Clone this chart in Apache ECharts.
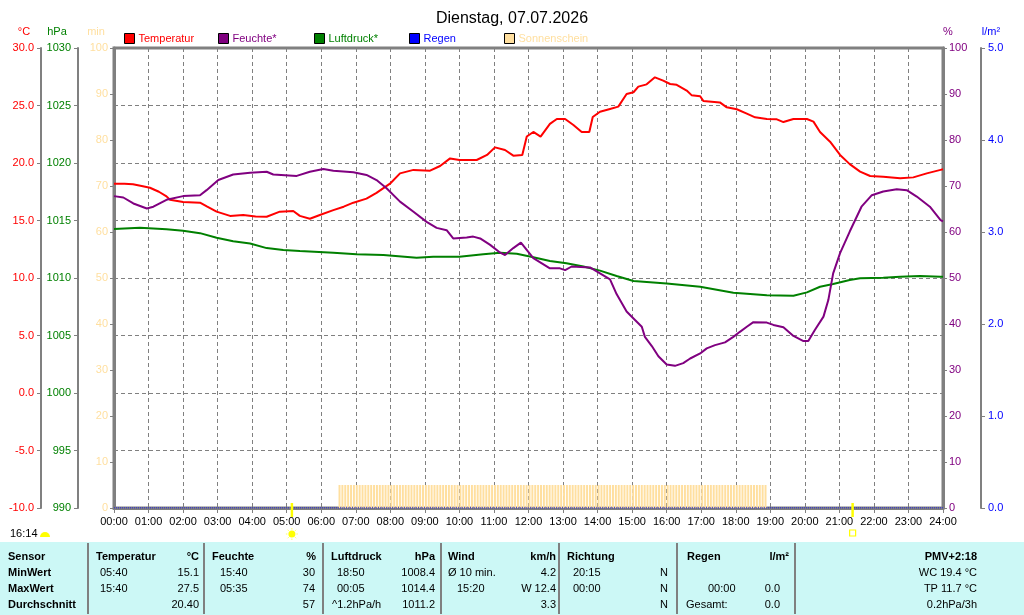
<!DOCTYPE html>
<html>
<head>
<meta charset="utf-8">
<script src="https://cdn.jsdelivr.net/npm/echarts@6/dist/echarts.min.js"></script>
<style>
html,body{margin:0;padding:0;background:#ffffff;}
#chart{width:1024px;height:615px;}
</style>
</head>
<body>
<div id="chart"></div>
<script>
// ---------------- DATA ----------------
const hourLabels = ['00:00','01:00','02:00','03:00','04:00','05:00','06:00','07:00','08:00','09:00','10:00','11:00','12:00',
  '13:00','14:00','15:00','16:00','17:00','18:00','19:00','20:00','21:00','22:00','23:00','24:00'];

// [hour of day, °C]
const temperature = [
  [0,18.2],[0.3,18.2],[0.55,18.15],[0.8,18.0],[1.04,17.85],[1.3,17.5],[1.52,17.1],[1.62,16.8],[2.0,16.6],[2.49,16.55],
  [2.7,16.2],[2.97,15.77],[3.36,15.4],[3.74,15.48],[4.1,15.35],[4.42,15.33],[4.8,15.77],[5.19,15.83],[5.38,15.4],[5.67,15.15],
  [5.96,15.48],[6.35,15.9],[6.65,16.2],[6.93,16.55],[7.31,16.9],[7.6,17.4],[7.99,18.2],[8.28,19.1],[8.67,19.4],[9.15,19.33],
  [9.44,19.74],[9.73,20.4],[10.0,20.26],[10.5,20.26],[10.8,20.7],[11.03,21.36],[11.32,21.13],[11.56,20.64],[11.82,20.7],[11.95,22.3],
  [12.14,22.7],[12.35,22.3],[12.62,23.4],[12.82,23.83],[13.06,23.83],[13.3,23.3],[13.54,22.7],[13.76,22.7],[13.86,24.0],[14.07,24.46],
  [14.36,24.7],[14.6,24.9],[14.84,26.0],[15.04,26.15],[15.18,26.64],[15.42,26.84],[15.66,27.45],[15.9,27.16],[16.1,26.87],[16.29,26.8],
  [16.58,26.3],[16.72,25.9],[16.97,25.8],[17.06,25.4],[17.54,25.27],[17.74,24.84],[18.03,24.67],[18.32,24.3],[18.56,23.97],[18.9,23.83],
  [19.19,23.8],[19.38,23.56],[19.67,23.83],[20.06,23.83],[20.25,23.6],[20.44,22.7],[20.73,21.85],[21.02,20.7],[21.3,19.9],[21.6,19.25],
  [21.89,18.87],[22.27,18.8],[22.76,18.67],[23.14,18.75],[23.53,19.1],[23.93,19.4],[24,19.45]
];

// [hour of day, %]
const humidity = [
  [0,67.8],[0.27,67.5],[0.56,66.2],[0.95,65.1],[1.14,65.5],[1.52,67.0],[2.0,67.8],[2.49,68.0],[2.68,69.1],[3.02,71.3],
  [3.45,72.5],[3.94,72.9],[4.42,73.1],[4.61,72.5],[5.29,72.2],[5.67,73.1],[6.06,73.7],[6.35,73.3],[6.93,73.0],[7.31,72.4],
  [7.6,71.3],[7.89,69.5],[8.28,66.6],[8.67,64.4],[9.05,62.2],[9.34,60.9],[9.63,60.4],[9.82,58.6],[10.21,58.8],[10.4,59.0],
  [10.6,58.6],[10.89,57.2],[11.18,55.5],[11.32,55.0],[11.56,56.5],[11.78,57.7],[12.14,54.3],[12.62,52.1],[12.91,52.1],[13.06,51.7],
  [13.25,52.5],[13.78,52.3],[14.07,51.0],[14.36,49.7],[14.55,46.5],[14.84,42.7],[15.04,41.2],[15.28,39.4],[15.37,37.2],[15.57,35.2],
  [15.76,33.0],[16.0,31.2],[16.24,30.9],[16.48,31.5],[16.68,32.5],[16.97,33.6],[17.16,34.7],[17.4,35.4],[17.69,36.0],[17.93,37.2],
  [18.12,38.3],[18.32,39.4],[18.51,40.4],[18.9,40.3],[19.09,39.8],[19.38,39.3],[19.67,37.4],[19.96,36.3],[20.1,36.3],[20.29,38.7],
  [20.54,41.6],[20.68,45.2],[20.82,51.0],[21.02,55.4],[21.3,60.1],[21.64,65.5],[21.94,68.0],[22.27,68.8],[22.66,69.3],[22.95,69.1],
  [23.24,67.7],[23.62,65.5],[23.93,62.6],[24,62.3]
];

// [hour of day, hPa]
const pressure = [
  [0,1014.26],[0.75,1014.37],[1.52,1014.23],[2.0,1014.1],[2.49,1013.9],[2.97,1013.5],[3.45,1013.2],[3.94,1013.0],[4.42,1012.6],[4.9,1012.43],
  [5.38,1012.35],[6.35,1012.2],[7.02,1012.06],[7.8,1012.0],[8.76,1011.76],[9.24,1011.85],[10.0,1011.85],[10.69,1012.06],[11.18,1012.2],[11.66,1012.1],
  [12.14,1011.8],[12.62,1011.48],[13.1,1011.28],[13.59,1011.0],[14.07,1010.64],[14.55,1010.17],[15.04,1009.74],[16.0,1009.53],[16.97,1009.24],[17.93,1008.72],
  [18.9,1008.5],[19.67,1008.46],[20.06,1008.75],[20.44,1009.24],[20.82,1009.47],[21.3,1009.83],[21.6,1009.97],[22.27,1010.03],[22.76,1010.1],[23.33,1010.17],
  [23.93,1010.1],[24,1010.1]
];

// [hour of day, l/m²]
const rain = [[0,0],[6,0],[12,0],[18,0],[24,0]];

// minutes of sunshine per 5-minute slot, first slot starts at 06:30
const sunshineStart = '06:30';
const sunshineMinutes = [
  5,5,5,5,5,5,                // 06:30-06:55
  5,5,5,5,5,5,5,5,5,5,5,5,    // 07
  5,5,5,5,5,5,5,5,5,5,5,5,    // 08
  5,5,5,5,5,5,5,5,5,5,5,5,    // 09
  5,5,5,5,5,5,5,5,5,5,5,5,    // 10
  5,5,5,5,5,5,5,5,5,5,5,5,    // 11
  5,5,5,5,5,5,5,5,5,5,5,5,    // 12
  5,5,5,5,5,5,5,5,5,5,5,5,    // 13
  5,5,5,5,5,5,5,5,5,5,5,5,    // 14
  5,5,5,5,5,5,5,5,5,5,5,5,    // 15
  5,5,5,5,5,5,5,5,5,5,5,5,    // 16
  5,5,5,5,5,5,5,5,5,5,5,5,    // 17
  5,5,5,5,5,5,5,5,5,5,5       // 18:00-18:50
];

const sunrise = '05:09';
const sunset = '21:23';
const currentTime = '16:14';

// statistics table (text)
const statsHeader = ['Sensor','Temperatur','°C','Feuchte','%','Luftdruck','hPa','Wind','km/h','Richtung','Regen','l/m²','PMV+2:18'];
const statsMin = ['MinWert','05:40','15.1','15:40','30','18:50','1008.4','Ø 10 min.','4.2','20:15','N','WC 19.4 °C'];
const statsMax = ['MaxWert','15:40','27.5','05:35','74','00:05','1014.4','15:20','W 12.4','00:00','N','00:00','0.0','TP 11.7 °C'];
const statsAvg = ['Durchschnitt','20.40','57','^1.2hPa/h','1011.2','3.3','N','Gesamt:','0.0','0.2hPa/3h'];

// ---------------- CHART ----------------
const FONT = 'Liberation Sans';
const C_TEMP = '#ff0000', C_HUM = '#800080', C_PRES = '#008000', C_RAIN = '#0000ff', C_SUN = '#ffdf9f', C_AX = '#808080';

function hm(s){ const p = s.split(':'); return (+p[0]) + (+p[1])/60; }
const sunStartH = hm(sunshineStart);
const sunshineData = sunshineMinutes.map((m, i) => [sunStartH + i * 5 / 60, m]);

const chart = echarts.init(document.getElementById('chart'), null, {renderer:'canvas'});

function yAx(o){
  return Object.assign({
    type:'value',
    axisLine:{show:true, onZero:false, lineStyle:{color:C_AX, width:2}},
    axisTick:{show:true, length:4, lineStyle:{color:C_AX, width:1}},
    splitLine:{show:false},
    axisLabel:{fontFamily:FONT, fontSize:11, margin:7}
  }, o);
}

function legendFor(name, left, color){
  return {
    data:[name], left:left, top:33, padding:0, itemWidth:10, itemHeight:10, icon:'rect',
    itemStyle:{borderColor:'#000', borderWidth:1},
    textStyle:{color:color, fontFamily:FONT, fontSize:11, padding:[0,0,0,-1]},
    selectedMode:false
  };
}

const option = {
  animation:false,
  backgroundColor:'#ffffff',
  title:{text:'Dienstag, 07.07.2026', left:'center', top:6,
    textStyle:{fontFamily:FONT, fontSize:16, fontWeight:'normal', color:'#000'}},
  legend:[
    legendFor('Temperatur', 124, C_TEMP),
    legendFor('Feuchte*', 218, C_HUM),
    legendFor('Luftdruck*', 314, C_PRES),
    legendFor('Regen', 409, C_RAIN),
    legendFor('Sonnenschein', 504, C_SUN)
  ],
  grid:{left:114, right:81, top:48, bottom:107, show:true, borderColor:C_AX, borderWidth:3, backgroundColor:'#ffffff'},
  xAxis:{
    type:'value', min:0, max:24, interval:1,
    axisLine:{show:true, onZero:false, lineStyle:{color:C_AX, width:3}},
    axisTick:{show:true, length:5, lineStyle:{color:C_AX, width:1}},
    axisLabel:{color:'#000', fontFamily:FONT, fontSize:11, margin:8, showMinLabel:true, showMaxLabel:true,
      formatter:v => hourLabels[Math.round(v)]},
    splitLine:{show:true, lineStyle:{color:C_AX, type:[4,3], width:1}}
  },
  yAxis:[
    yAx({position:'left', offset:73, min:-10, max:30, interval:5,
      axisLabel:{color:C_TEMP, fontFamily:FONT, fontSize:11, margin:7, formatter:v => v.toFixed(1)},
      splitLine:{show:true, lineStyle:{color:C_AX, type:[4,3], width:1}}}),
    yAx({position:'left', offset:36, min:990, max:1030, interval:5,
      axisLabel:{color:C_PRES, fontFamily:FONT, fontSize:11, margin:7, formatter:v => String(v)}}),
    yAx({position:'left', offset:0, min:0, max:100, interval:10,
      axisLine:{show:true, onZero:false, lineStyle:{color:C_AX, width:3}},
      axisLabel:{color:C_SUN, fontFamily:FONT, fontSize:11, margin:6}}),
    yAx({position:'right', offset:0, min:0, max:100, interval:10,
      axisLine:{show:true, onZero:false, lineStyle:{color:C_AX, width:3}},
      axisLabel:{color:C_HUM, fontFamily:FONT, fontSize:11, margin:6}}),
    yAx({position:'right', offset:38, min:0, max:5, interval:1,
      axisLabel:{color:C_RAIN, fontFamily:FONT, fontSize:11, margin:7, formatter:v => v.toFixed(1)}})
  ],
  series:[
    {
      name:'Sonnenschein', type:'custom', xAxisIndex:0, yAxisIndex:2, z:1,
      itemStyle:{color:C_SUN},
      encode:{x:0, y:1},
      data:sunshineData,
      renderItem:function(params, api){
        const t = api.value(0), v = api.value(1);
        const a = api.coord([t, v]);
        const b = api.coord([t + 5/60, 0]);
        return {type:'rect', shape:{x:a[0], y:a[1], width:Math.max(b[0]-a[0]-0.9, 0.5), height:b[1]-a[1]},
          style:{fill:C_SUN}};
      }
    },
    {name:'Temperatur', type:'line', yAxisIndex:0, data:temperature, showSymbol:false, symbol:'none', z:4,
      itemStyle:{color:C_TEMP}, lineStyle:{color:C_TEMP, width:2}},
    {name:'Feuchte*', type:'line', yAxisIndex:3, data:humidity, showSymbol:false, symbol:'none', z:4,
      itemStyle:{color:C_HUM}, lineStyle:{color:C_HUM, width:2}},
    {name:'Luftdruck*', type:'line', yAxisIndex:1, data:pressure, showSymbol:false, symbol:'none', z:3,
      itemStyle:{color:C_PRES}, lineStyle:{color:C_PRES, width:2}},
    {name:'Regen', type:'line', yAxisIndex:4, data:rain, showSymbol:false, symbol:'none', z:5,
      itemStyle:{color:C_RAIN}, lineStyle:{color:C_RAIN, width:1, type:'dotted'}}
  ]
};
chart.setOption(option);

// ---------------- extra graphics: units, sun markers, stats table ----------------
const g = [];
function txt(x, y, s, color, align, bold, size){
  g.push({type:'text', x:x, y:y, silent:true, z:10,
    style:{text:s, fill:color, fontFamily:FONT, fontSize:size || 11, fontWeight:bold ? 'bold' : 'normal',
      textAlign:align || 'left', textVerticalAlign:'middle'}});
}
// axis units
txt(24, 32, '°C', C_TEMP, 'center');
txt(57, 32, 'hPa', C_PRES, 'center');
txt(96, 32, 'min', C_SUN, 'center');
txt(948, 32, '%', C_HUM, 'center');
txt(991, 32, 'l/m²', C_RAIN, 'center');

// sunrise / sunset markers
const xr = chart.convertToPixel({xAxisIndex:0}, hm(sunrise));
const xs = chart.convertToPixel({xAxisIndex:0}, hm(sunset));
[xr, xs].forEach(x => g.push({type:'line', silent:true, z:10, shape:{x1:x, y1:503, x2:x, y2:517}, style:{stroke:'#ffff00', lineWidth:2.5}}));
g.push({type:'circle', silent:true, z:10, shape:{cx:xr, cy:534, r:3.5}, style:{fill:'#ffff00'}});
for (let k = 0; k < 8; k++) {
  const a = k * Math.PI / 4;
  g.push({type:'line', silent:true, z:10, shape:{x1:xr + Math.cos(a)*4.5, y1:534 + Math.sin(a)*4.5, x2:xr + Math.cos(a)*6, y2:534 + Math.sin(a)*6},
    style:{stroke:'#ffff60', lineWidth:1}});
}
g.push({type:'rect', silent:true, z:10, shape:{x:xs - 3, y:530, width:6, height:6}, style:{fill:'none', stroke:'#ffff00', lineWidth:1.2}});

// current time
txt(10, 534, currentTime, '#000', 'left');
g.push({type:'sector', silent:true, z:10, shape:{cx:45, cy:537, r0:0, r:5, startAngle:Math.PI, endAngle:2*Math.PI}, style:{fill:'#ffff00'}});

// stats table
g.push({type:'rect', silent:true, z:5, shape:{x:0, y:542, width:1024, height:73}, style:{fill:'#ccf8f6'}});
[88, 204, 323, 441, 559, 677, 795].forEach(x =>
  g.push({type:'line', silent:true, z:6, shape:{x1:x, y1:543, x2:x, y2:614}, style:{stroke:C_AX, lineWidth:2}}));

const headerPos = [[8,'left'],[96,'left'],[199,'right'],[212,'left'],[316,'right'],[331,'left'],[435,'right'],[448,'left'],[556,'right'],[567,'left'],[687,'left'],[789,'right'],[977,'right']];
const minPos = [[8,'left'],[100,'left'],[199,'right'],[220,'left'],[315,'right'],[337,'left'],[435,'right'],[448,'left'],[556,'right'],[573,'left'],[668,'right'],[977,'right']];
const maxPos = [[8,'left'],[100,'left'],[199,'right'],[220,'left'],[315,'right'],[337,'left'],[435,'right'],[457,'left'],[556,'right'],[573,'left'],[668,'right'],[708,'left'],[780,'right'],[977,'right']];
const avgPos = [[8,'left'],[199,'right'],[315,'right'],[332,'left'],[435,'right'],[556,'right'],[668,'right'],[686,'left'],[780,'right'],[977,'right']];
[[statsHeader, headerPos, 557, true], [statsMin, minPos, 573, false], [statsMax, maxPos, 589, false], [statsAvg, avgPos, 605, false]]
  .forEach(([row, pos, y, allBold]) => {
    row.forEach((s, i) => txt(pos[i][0], y, s, '#000', pos[i][1], allBold || i === 0));
  });

chart.setOption({graphic:{elements:g}});
</script>
</body>
</html>
